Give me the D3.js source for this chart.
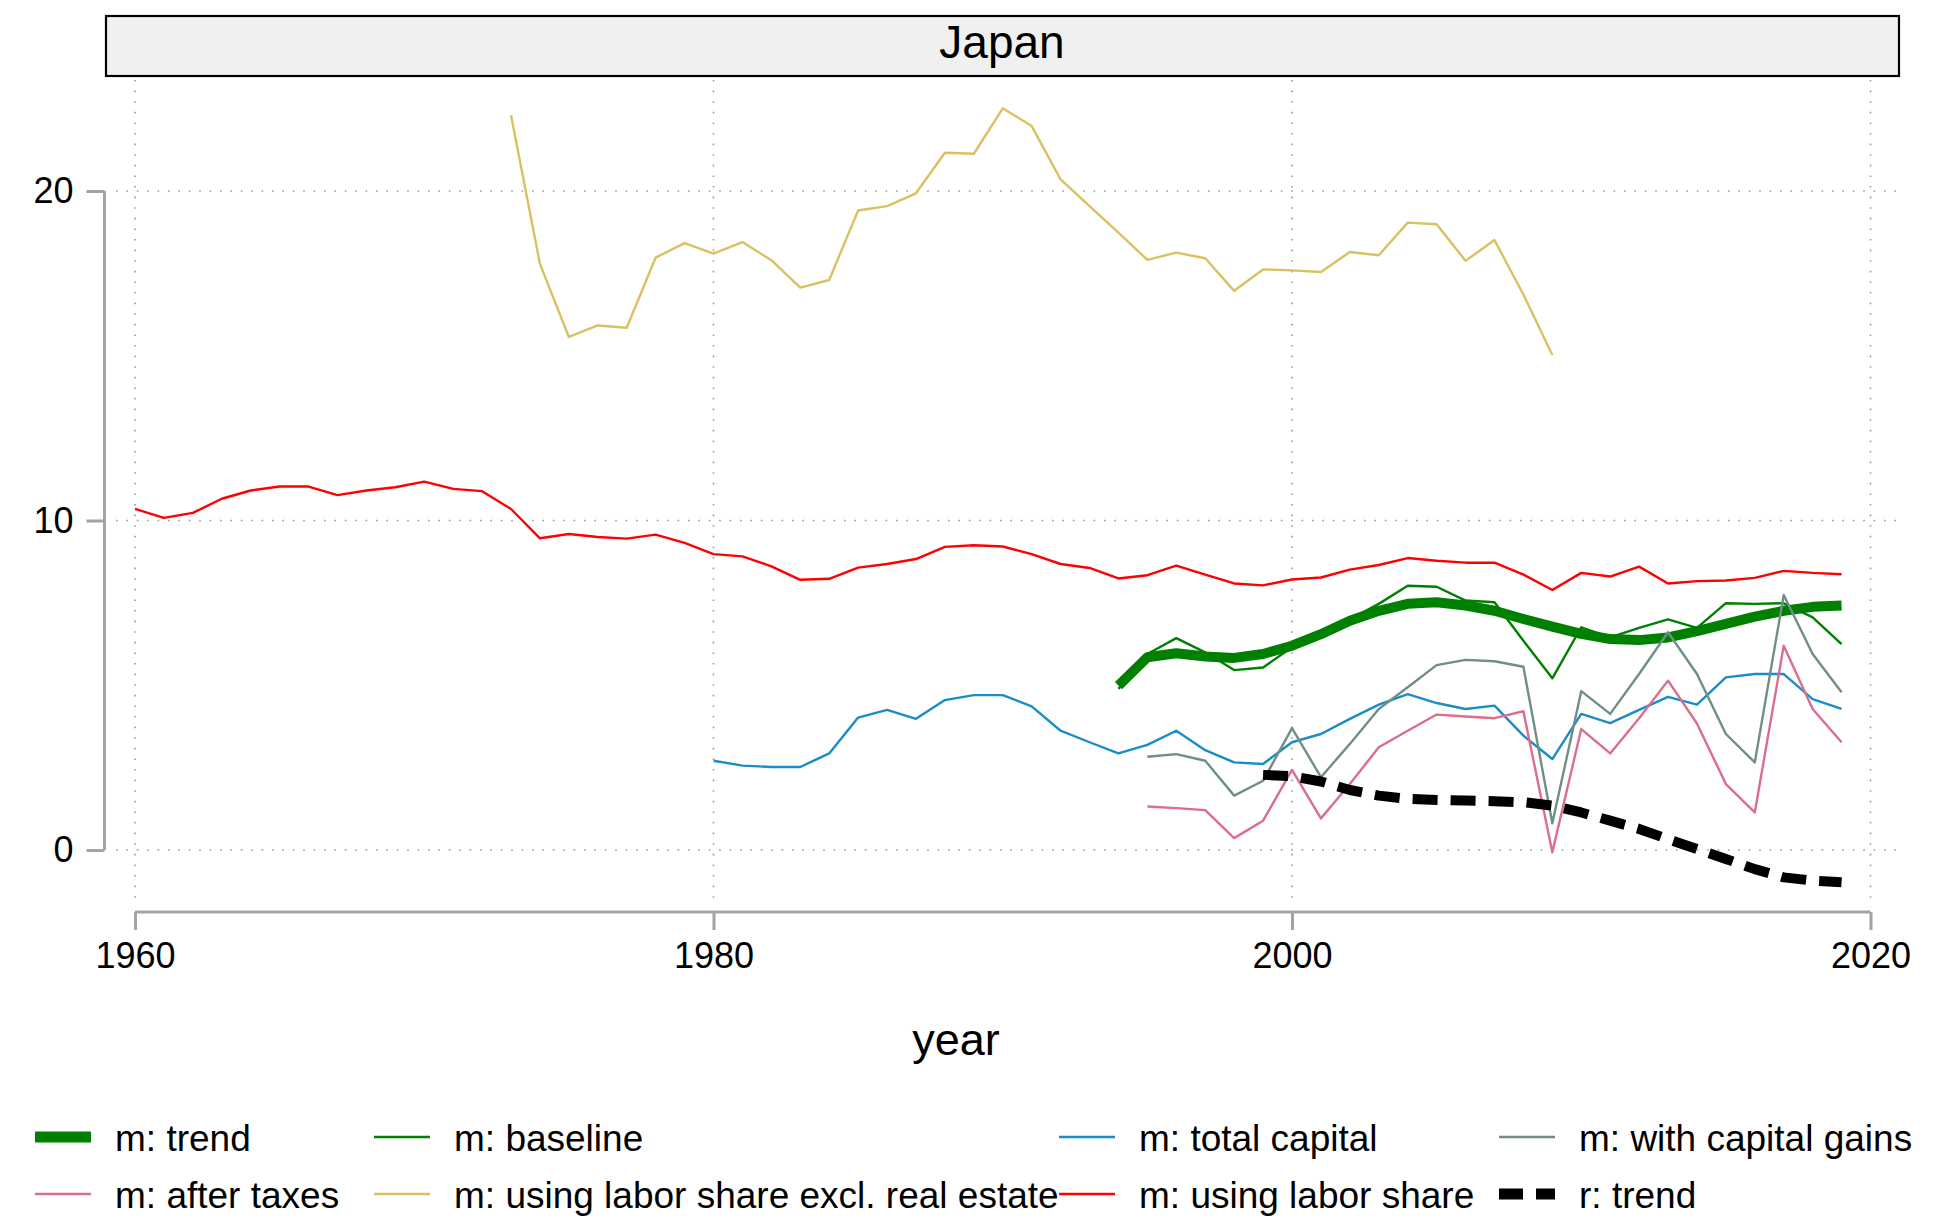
<!DOCTYPE html>
<html>
<head>
<meta charset="utf-8">
<script src="https://cdn.jsdelivr.net/npm/d3@7"></script>
<style>
  html, body { margin: 0; padding: 0; background: #fff; }
  svg { display: block; font-family: "Liberation Sans", Arial, Helvetica, sans-serif; }
</style>
</head>
<body>
<script>
// ---------------- data ----------------
const panelTitle = "Japan";
const xTicks = [1960, 1980, 2000, 2020];
const yTicks = [0, 10, 20];
const xTitle = "year";

const yearsLabor = d3.range(1960, 2020);
const laborShare = [10.35, 10.08, 10.23, 10.66, 10.91, 11.03, 11.03, 10.77, 10.91, 11.01,
  11.18, 10.96, 10.89, 10.35, 9.46, 9.59, 9.50, 9.45, 9.57, 9.32,
  8.98, 8.91, 8.61, 8.20, 8.23, 8.57, 8.68, 8.83, 9.20, 9.25,
  9.21, 8.98, 8.68, 8.56, 8.24, 8.34, 8.63, 8.36, 8.09, 8.03,
  8.21, 8.27, 8.51, 8.65, 8.86, 8.78, 8.72, 8.72, 8.36, 7.89,
  8.41, 8.30, 8.60, 8.09, 8.16, 8.18, 8.26, 8.47, 8.41, 8.37];

const yearsExclRE = d3.range(1973, 2010);
const exclRealEstate = [22.30, 17.79, 15.57, 15.92, 15.85, 17.98, 18.42, 18.10, 18.45, 17.90,
  17.07, 17.30, 19.41, 19.54, 19.93, 21.16, 21.13, 22.51, 21.97, 20.35,
  19.54, 18.74, 17.91, 18.13, 17.96, 16.97, 17.62, 17.59, 17.54, 18.15,
  18.05, 19.04, 18.99, 17.88, 18.51, 16.86, 15.02];

const yearsTotal = d3.range(1980, 2020);
const totalCapital = [2.71, 2.56, 2.52, 2.52, 2.93, 4.02, 4.25, 3.98, 4.55, 4.70,
  4.70, 4.36, 3.62, 3.27, 2.93, 3.19, 3.62, 3.03, 2.66, 2.61,
  3.27, 3.52, 3.98, 4.41, 4.73, 4.46, 4.28, 4.38, 3.47, 2.76,
  4.13, 3.85, 4.25, 4.65, 4.41, 5.24, 5.34, 5.34, 4.58, 4.28];

const yearsBase = d3.range(1994, 2020);
const baseline = [4.89, 5.95, 6.43, 6.00, 5.46, 5.54, 6.15, 6.55, 7.00, 7.47,
  8.02, 7.99, 7.57, 7.52, 6.35, 5.21, 6.76, 6.45, 6.74, 7.00,
  6.74, 7.49, 7.47, 7.49, 7.06, 6.25];
const mTrend = [4.99, 5.85, 5.97, 5.87, 5.83, 5.95, 6.20, 6.55, 6.96, 7.26,
  7.47, 7.52, 7.42, 7.26, 7.01, 6.78, 6.56, 6.40, 6.37, 6.45,
  6.64, 6.86, 7.08, 7.26, 7.38, 7.42];

const yearsCG = d3.range(1995, 2020);
const withCapGains = [2.83, 2.91, 2.71, 1.65, 2.10, 3.70, 2.21, 3.22, 4.28, 4.94,
  5.61, 5.77, 5.73, 5.56, 0.81, 4.82, 4.13, 5.34, 6.61, 5.34,
  3.52, 2.66, 7.74, 5.95, 4.79];
const afterTaxes = [1.32, 1.27, 1.21, 0.36, 0.89, 2.43, 0.96, 2.00, 3.12, 3.62,
  4.11, 4.05, 4.00, 4.21, -0.07, 3.67, 2.93, 4.00, 5.14, 3.84,
  2.00, 1.14, 6.20, 4.28, 3.27];

const yearsR = d3.range(1999, 2020);
const rTrend = [2.28, 2.24, 2.08, 1.82, 1.65, 1.55, 1.52, 1.50, 1.48, 1.45,
  1.35, 1.14, 0.89, 0.64, 0.33, 0.03, -0.27, -0.58, -0.83, -0.93, -0.98];

// series definitions (draw order = legend order)
const series = [
  { name: "m: trend", years: yearsBase, values: mTrend, color: "#008000", width: 10, dash: null },
  { name: "m: baseline", years: yearsBase, values: baseline, color: "#008000", width: 2.4, dash: null },
  { name: "m: total capital", years: yearsTotal, values: totalCapital, color: "#1a8cc8", width: 2.4, dash: null },
  { name: "m: with capital gains", years: yearsCG, values: withCapGains, color: "#6f8f86", width: 2.4, dash: null },
  { name: "m: after taxes", years: yearsCG, values: afterTaxes, color: "#dc6d8c", width: 2.4, dash: null },
  { name: "m: using labor share excl. real estate", years: yearsExclRE, values: exclRealEstate, color: "#d9c162", width: 2.4, dash: null },
  { name: "m: using labor share", years: yearsLabor, values: laborShare, color: "#ff0000", width: 2.4, dash: null },
  { name: "r: trend", years: yearsR, values: rTrend, color: "#000000", width: 10, dash: "25 13" }
];

// ---------------- layout ----------------
const W = 1942, H = 1217;
const svg = d3.select("body").append("svg").attr("width", W).attr("height", H);

const x = d3.scaleLinear().domain([1960, 2020]).range([135, 1870.5]);
const y = d3.scaleLinear().domain([0, 20]).range([850, 191]);

const plotLeft = 116, plotRight = 1899, plotTop = 80, plotBottom = 906;
const axisColor = "#a3a3a3";

// header strip
svg.append("rect").attr("x", 106).attr("y", 16).attr("width", 1793).attr("height", 60)
  .attr("fill", "#f0f0f0").attr("stroke", "#000").attr("stroke-width", 2.2);
svg.append("text").attr("x", 1002).attr("y", 58).attr("text-anchor", "middle")
  .attr("font-size", 46).attr("fill", "#000").text(panelTitle);

// grid lines
const grid = svg.append("g");
grid.selectAll("line.h").data(yTicks).join("line")
  .attr("x1", plotLeft).attr("x2", plotRight)
  .attr("y1", d => y(d)).attr("y2", d => y(d))
  .attr("stroke", "#9a9a9a").attr("stroke-width", 1.6).attr("stroke-dasharray", "1.6 8.8");
grid.selectAll("line.v").data(xTicks).join("line")
  .attr("x1", d => x(d)).attr("x2", d => x(d))
  .attr("y1", plotTop).attr("y2", plotBottom)
  .attr("stroke", "#9a9a9a").attr("stroke-width", 1.6).attr("stroke-dasharray", "1.6 9");

// y axis
const yAxis = d3.axisLeft(y).tickValues(yTicks).tickSize(18).tickPadding(13).tickFormat(d3.format("d"));
const gy = svg.append("g").attr("transform", "translate(104.5,0)").call(yAxis);
gy.select(".domain").attr("d", `M0,${y(20)}V${y(0)}`).attr("stroke", axisColor).attr("stroke-width", 3);
gy.selectAll(".tick line").attr("stroke", axisColor).attr("stroke-width", 3);
gy.selectAll(".tick text").attr("font-size", 36).attr("fill", "#000")
  .attr("font-family", "Liberation Sans, Arial, sans-serif");

// x axis
const xAxis = d3.axisBottom(x).tickValues(xTicks).tickSize(18).tickPadding(12).tickFormat(d3.format("d"));
const gx = svg.append("g").attr("transform", "translate(0,912)").call(xAxis);
gx.select(".domain").attr("d", `M${x(1960)},0H${x(2020)}`).attr("stroke", axisColor).attr("stroke-width", 3);
gx.selectAll(".tick line").attr("stroke", axisColor).attr("stroke-width", 3);
gx.selectAll(".tick text").attr("font-size", 36).attr("fill", "#000")
  .attr("font-family", "Liberation Sans, Arial, sans-serif");

svg.append("text").attr("x", 956).attr("y", 1055).attr("text-anchor", "middle")
  .attr("font-size", 45).attr("fill", "#000").text(xTitle);

// series lines
const lineGen = d3.line().x(d => x(d[0])).y(d => y(d[1]));
const gLines = svg.append("g");
series.forEach(s => {
  const pts = s.years.map((yr, i) => [yr, s.values[i]]);
  gLines.append("path").datum(pts)
    .attr("d", lineGen)
    .attr("fill", "none")
    .attr("stroke", s.color)
    .attr("stroke-width", s.width)
    .attr("stroke-linejoin", "round")
    .attr("stroke-dasharray", s.dash);
});

// legend
const legCols = [35, 374, 1059, 1499];
const legRows = [1137, 1194];
const gLeg = svg.append("g");
series.forEach((s, i) => {
  const cx = legCols[i % 4];
  const cy = legRows[Math.floor(i / 4)];
  gLeg.append("line").attr("x1", cx).attr("x2", cx + 56).attr("y1", cy).attr("y2", cy)
    .attr("stroke", s.color)
    .attr("stroke-width", s.width === 10 ? 11 : 2.6)
    .attr("stroke-dasharray", s.dash ? "24 13" : null);
  gLeg.append("text").attr("x", cx + 80).attr("y", cy + 14)
    .attr("font-size", 37).attr("fill", "#000").text(s.name);
});
</script>
</body>
</html>
